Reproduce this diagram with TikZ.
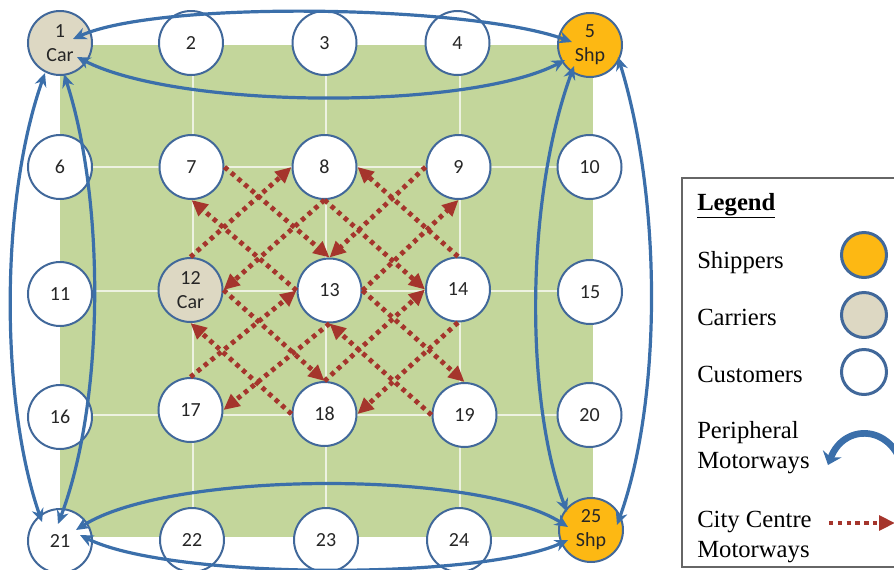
\documentclass[tikz,border=0pt]{standalone}
\usepackage{fontspec}
\setmainfont{Liberation Serif}
\newfontfamily\nodefont{Carlito}
\usetikzlibrary{arrows.meta,calc}
\definecolor{gfield}{HTML}{C3D69B}
\definecolor{nborder}{HTML}{41689A}
\definecolor{shipc}{HTML}{FDB813}
\definecolor{carc}{HTML}{DDD8C3}
\definecolor{motor}{HTML}{3B6FAA}
\definecolor{cityc}{HTML}{A5352C}
\definecolor{legframe}{HTML}{666666}
\begin{document}
\begin{tikzpicture}[x=0.75pt,y=-0.75pt,
 cust/.style={circle,draw=nborder,line width=1.5pt,fill=white,minimum size=48pt,inner sep=0pt,
   font=\nodefont\fontsize{15}{18}\selectfont,text=black!85,align=center},
 ship/.style={cust,fill=shipc},
 carr/.style={cust,fill=carc},
 periph/.style={draw=motor,line width=2.4pt,{Stealth[length=10pt,width=9pt]}-{Stealth[length=10pt,width=9pt]}},
 city/.style={draw=cityc,line width=3.6pt,dash pattern=on 3.3pt off 3.3pt,-{Triangle[length=12pt,width=11pt]}},
 legtext/.style={anchor=base west,inner sep=0pt,font=\fontsize{18.5}{22}\selectfont},
 legcirc/.style={circle,draw=nborder,line width=2.25pt,minimum size=33.75pt,inner sep=0pt},
 gridline/.style={draw=white,opacity=0.7,line width=1.5pt}
]
\useasboundingbox (0,0) rectangle (894,569);
\clip (0,0) rectangle (894,569);

% field
\fill[gfield] (60,45) rectangle (593,537);
\foreach \gx in {193,326,460} \draw[gridline] (\gx,45) -- (\gx,537);
\foreach \gy in {167,291,415} \draw[gridline] (60,\gy) -- (593,\gy);

% nodes
\node[carr] (n1) at (60,43) {1\\Car};
\node[cust] (n2) at (191,43) {2};
\node[cust] (n3) at (324.5,43) {3};
\node[cust] (n4) at (457.5,43) {4};
\node[ship] (n5) at (590,45) {5\\Shp};
\node[cust] (n6) at (60,167) {6};
\node[cust] (n7) at (191.5,167) {7};
\node[cust] (n8) at (324.5,167) {8};
\node[cust] (n9) at (458.5,167) {9};
\node[cust] (n10) at (589.5,167) {10};
\node[cust] (n11) at (60,294) {11};
\node[carr] (n12) at (190.5,290) {12\\Car};
\node[cust] (n13) at (329.5,290.5) {13};
\node[cust] (n14) at (458,289.5) {14};
\node[cust] (n15) at (590,292) {15};
\node[cust] (n16) at (60,417) {16};
\node[cust] (n17) at (190.5,410) {17};
\node[cust] (n18) at (324.5,414) {18};
\node[cust] (n19) at (464.5,415) {19};
\node[cust] (n20) at (589.5,415) {20};
\node[cust] (n21) at (60,541) {21};
\node[cust] (n22) at (192,540) {22};
\node[cust] (n23) at (326,540) {23};
\node[cust] (n24) at (459,540) {24};
\node[ship] (n25) at (591,530) {25\\Shp};

% city centre motorways
\draw[city] (n7.east) -- (n13.north);
\draw[city] (n13.west) -- (n7.south);
\draw[city] (n12.north) -- (n8.west);
\draw[city] (n8.south) -- (n12.east);
\draw[city] (n9.west) -- (n13.north);
\draw[city] (n13.east) -- (n9.south);
\draw[city] (n8.south) -- (n14.west);
\draw[city] (n14.north) -- (n8.east);
\draw[city] (n12.east) -- (n18.north);
\draw[city] (n18.west) -- (n12.south);
\draw[city] (n17.north) -- (n13.west);
\draw[city] (n13.south) -- (n17.east);
\draw[city] (n13.east) -- (n19.north);
\draw[city] (n19.west) -- (n13.south);
\draw[city] (n18.north) -- (n14.west);
\draw[city] (n14.south) -- (n18.east);

% peripheral motorway ends
\coordinate (t1a) at ($(n1)+(13,-4)$);
\coordinate (t1b) at ($(n5)+(-18,-3)$);
\coordinate (t2a) at ($(n5)+(-25,15)$);
\coordinate (t2b) at ($(n1)+(17,14)$);
\coordinate (l1a) at ($(n1)+(-15,30)$);
\coordinate (l1b) at ($(n21)+(-18,-19)$);
\coordinate (l2a) at ($(n1)+(4,31)$);
\coordinate (l2b) at ($(n21)+(-2,-17)$);
\coordinate (r1a) at ($(n5)+(-16,21)$);
\coordinate (r1b) at ($(n25)+(-24,-18)$);
\coordinate (r2a) at ($(n5)+(28,12)$);
\coordinate (r2b) at ($(n25)+(26,-5)$);
\coordinate (b1a) at ($(n21)+(16,-11)$);
\coordinate (b1b) at ($(n25)+(-23,-3)$);
\coordinate (b2a) at ($(n21)+(20,-6)$);
\coordinate (b2b) at ($(n25)+(-23,10)$);

\draw[periph] (t1a) .. controls (160,0) and (470,5) .. (t1b);
\draw[periph] (t2a) .. controls (470,110) and (180,110) .. (t2b);
\draw[periph] (l1a) .. controls (0,200) and (0,400) .. (l1b);
\draw[periph] (l2a) .. controls (105,200) and (105,400) .. (l2b);
\draw[periph] (r1a) .. controls (525,200) and (525,400) .. (r1b);
\draw[periph] (r2a) .. controls (662,200) and (662,400) .. (r2b);
\draw[periph] (b1a) .. controls (170,470) and (480,470) .. (b1b);
\draw[periph] (b2a) .. controls (170,580) and (480,580) .. (b2b);

% legend
\draw[legframe,line width=1pt] (682,178) rectangle (930,567);
\node[legtext,font=\bfseries\fontsize{18.5}{22}\selectfont] (lgt) at (697,210) {\underline{Legend}};
\node[legtext] (lsh) at (697,268) {Shippers};
\node[legtext] (lca) at (697,325) {Carriers};
\node[legtext] (lcu) at (697,382) {Customers};
\node[legtext] (lpe1) at (697,438) {Peripheral};
\node[legtext] (lpe2) at (697,468) {Motorways};
\node[legtext] (lci1) at (697,527) {City Centre};
\node[legtext] (lci2) at (697,557) {Motorways};
\node[legcirc,fill=shipc] (csh) at (864,255) {};
\node[legcirc,fill=carc] (cca) at (864,315) {};
\node[legcirc,fill=white] (ccu) at (864,372) {};
\coordinate (pla) at (905,480);
\coordinate (plb) at (828,465);
\draw[draw=motor,line width=5pt,-{Stealth[length=9pt,width=15pt]}] (pla) .. controls (900,425) and (845,420) .. (plb);
\coordinate (cla) at (829,523);
\coordinate (clb) at (895,523);
\draw[city] (cla) -- (clb);
\end{tikzpicture}
\end{document}
